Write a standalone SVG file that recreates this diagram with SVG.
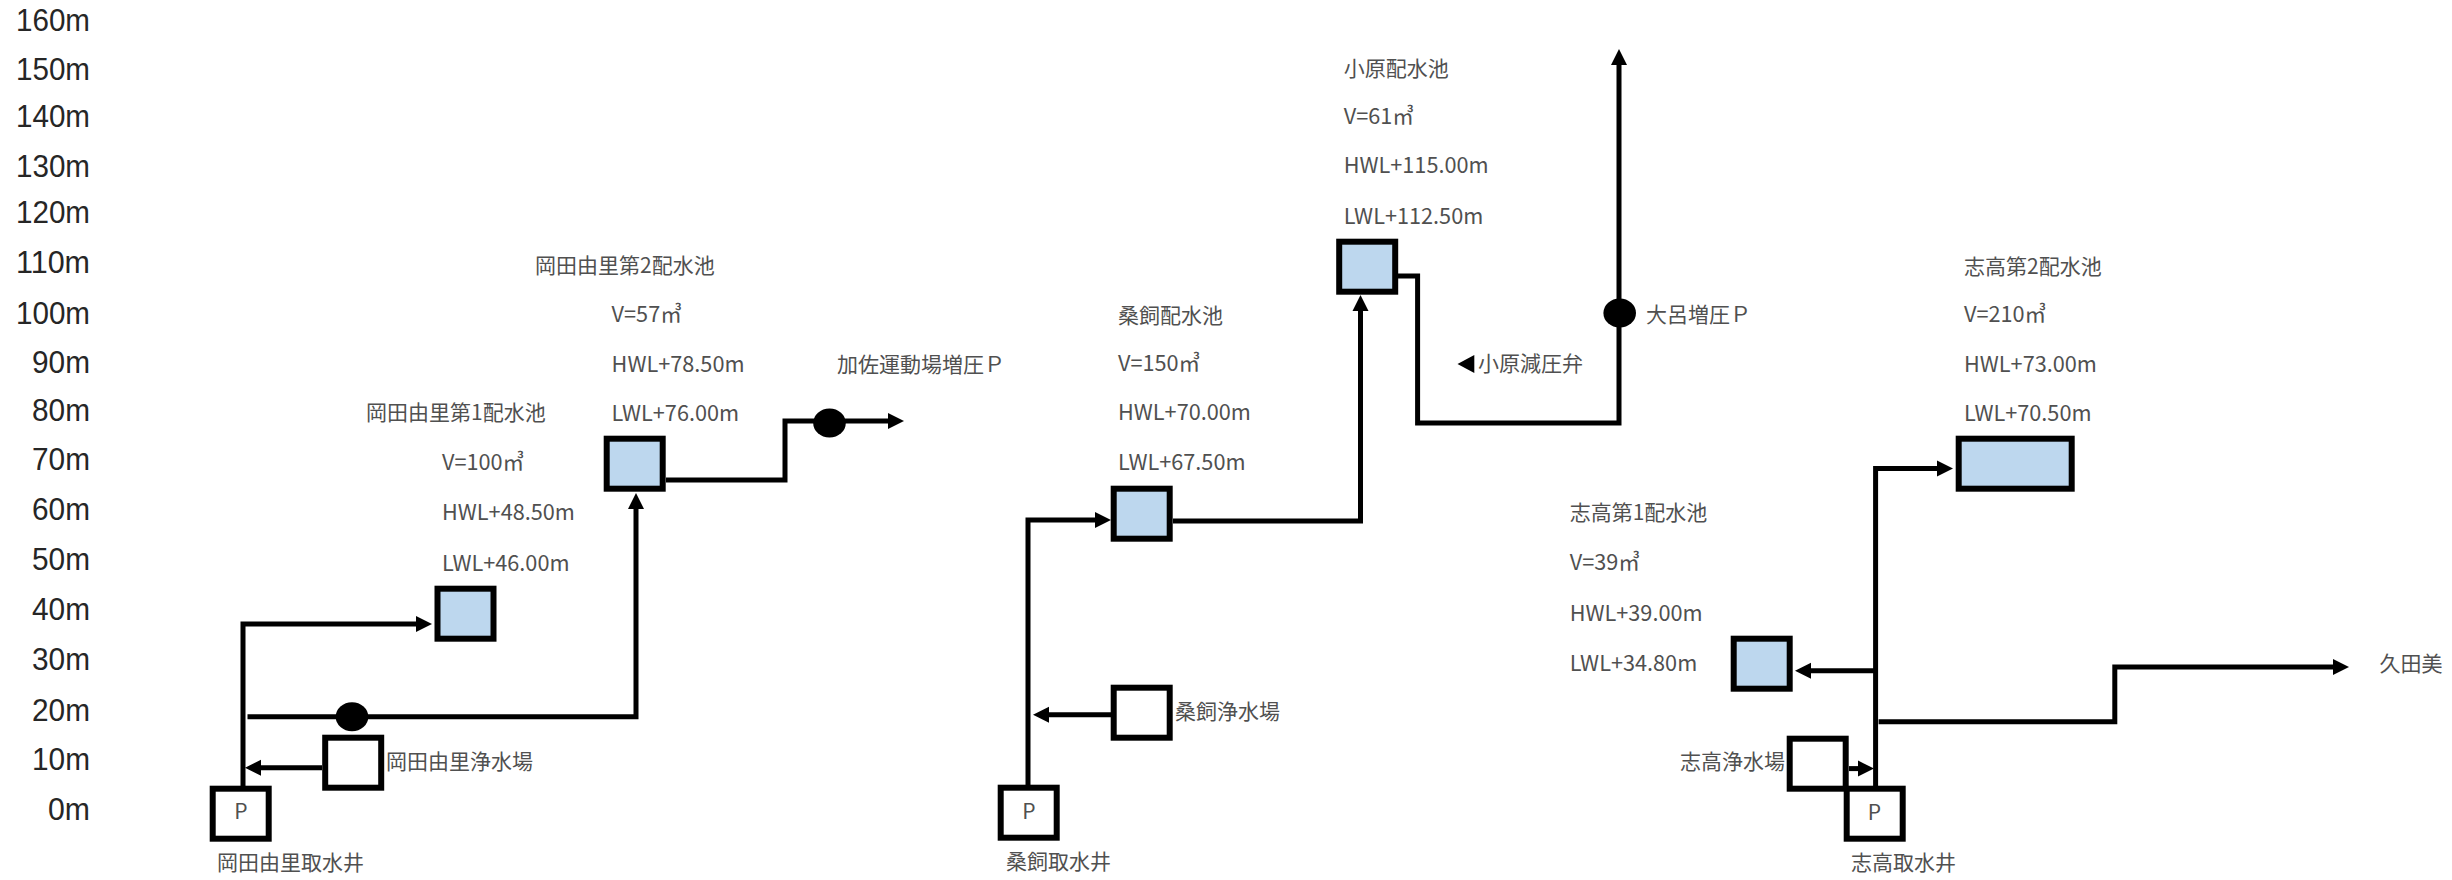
<svg xmlns="http://www.w3.org/2000/svg" width="2452" height="880" viewBox="0 0 2452 880">
<style>
text{font-family:"Noto Sans CJK JP","Noto Sans",sans-serif;font-size:21px;fill:#505050}
.l{font-size:21.700px}
text.ax{font-family:"Liberation Sans",sans-serif;font-size:32px;fill:#262626;text-anchor:end}
.c{text-anchor:middle}
.box{stroke:#000;stroke-width:6;fill:#fff}
.tank{stroke:#000;stroke-width:6;fill:#bdd7ee}
.pipe{fill:none;stroke:#000;stroke-width:5}
.arr{marker-end:url(#ah)}
.pump{fill:#000}
</style>
<defs>
<marker id="ah" markerUnits="userSpaceOnUse" markerWidth="18" markerHeight="18" refX="1" refY="8" orient="auto" overflow="visible"><polygon points="0,0 16,8 0,16" fill="#000"/></marker>
</defs>
<rect width="2452" height="880" fill="#fff"/>
<g id="axis">
<text class="ax" x="90" y="31" textLength="74" lengthAdjust="spacingAndGlyphs">160m</text>
<text class="ax" x="90" y="79.500" textLength="74" lengthAdjust="spacingAndGlyphs">150m</text>
<text class="ax" x="90" y="127" textLength="74" lengthAdjust="spacingAndGlyphs">140m</text>
<text class="ax" x="90" y="176.700" textLength="74" lengthAdjust="spacingAndGlyphs">130m</text>
<text class="ax" x="90" y="223" textLength="74" lengthAdjust="spacingAndGlyphs">120m</text>
<text class="ax" x="90" y="273" textLength="74" lengthAdjust="spacingAndGlyphs">110m</text>
<text class="ax" x="90" y="324" textLength="74" lengthAdjust="spacingAndGlyphs">100m</text>
<text class="ax" x="90" y="373" textLength="58" lengthAdjust="spacingAndGlyphs">90m</text>
<text class="ax" x="90" y="420.700" textLength="58" lengthAdjust="spacingAndGlyphs">80m</text>
<text class="ax" x="90" y="470" textLength="58" lengthAdjust="spacingAndGlyphs">70m</text>
<text class="ax" x="90" y="520" textLength="58" lengthAdjust="spacingAndGlyphs">60m</text>
<text class="ax" x="90" y="570" textLength="58" lengthAdjust="spacingAndGlyphs">50m</text>
<text class="ax" x="90" y="620" textLength="58" lengthAdjust="spacingAndGlyphs">40m</text>
<text class="ax" x="90" y="670" textLength="58" lengthAdjust="spacingAndGlyphs">30m</text>
<text class="ax" x="90" y="720.700" textLength="58" lengthAdjust="spacingAndGlyphs">20m</text>
<text class="ax" x="90" y="770" textLength="58" lengthAdjust="spacingAndGlyphs">10m</text>
<text class="ax" x="90" y="820" textLength="42" lengthAdjust="spacingAndGlyphs">0m</text>
</g>
<g id="connectors">
<path class="pipe arr" d="M243 786V624H417"/>
<path class="pipe arr" d="M247.500 716.700H636V508"/>
<path class="pipe arr" d="M322 767.700H260"/>
<path class="pipe arr" d="M666 480H785V421H889"/>
<path class="pipe arr" d="M1028 785V520H1096"/>
<path class="pipe arr" d="M1111 714.700H1048"/>
<path class="pipe arr" d="M1173 521H1360.500V310"/>
<path class="pipe arr" d="M1398 276H1417.600V423H1619V64"/>
<path class="pipe arr" d="M1875.600 786V468.600H1938"/>
<path class="pipe arr" d="M1875.600 670.700H1810"/>
<path class="pipe arr" d="M1878.600 721.700H2114.800V667H2334"/>
<path class="pipe arr" d="M1849 768.600H1859"/>
</g>
<g id="pump-okadayuri"><ellipse class="pump" cx="352" cy="716.700" rx="16.300" ry="14.500"/></g>
<g id="pump-kasa"><ellipse class="pump" cx="829.500" cy="423" rx="16.300" ry="14.500"/><text x="837" y="372">加佐運動場増圧Ｐ</text></g>
<g id="pump-oro"><ellipse class="pump" cx="1619.700" cy="313" rx="16.300" ry="14.500"/><text x="1646" y="322">大呂増圧Ｐ</text></g>
<g id="valve-ohara"><polygon points="1457.500,364 1474.300,355 1474.300,373" fill="#000"/><text x="1478" y="371">小原減圧弁</text></g>
<g id="well-okadayuri"><rect class="box" x="212.700" y="788.700" width="56" height="50"/><text class="c" x="241" y="819">P</text><text x="217" y="870">岡田由里取水井</text></g>
<g id="plant-okadayuri"><rect class="box" x="325.200" y="737.700" width="56" height="50"/><text x="386" y="769">岡田由里浄水場</text></g>
<g id="tank-okadayuri1"><rect class="tank" x="437.500" y="588.700" width="56" height="50"/><text x="366" y="420">岡田由里第1配水池</text><text class="l" x="442" y="470">V=100㎥</text><text class="l" x="442" y="520">HWL+48.50m</text><text class="l" x="442" y="571">LWL+46.00m</text></g>
<g id="tank-okadayuri2"><rect class="tank" x="606.700" y="438.700" width="56" height="50"/><text x="535" y="273">岡田由里第2配水池</text><text class="l" x="611.600" y="322">V=57㎥</text><text class="l" x="611.600" y="372">HWL+78.50m</text><text class="l" x="611.600" y="421">LWL+76.00m</text></g>
<g id="well-kuwagai"><rect class="box" x="1000.700" y="787.700" width="56" height="50"/><text class="c" x="1029" y="819">P</text><text x="1006" y="869">桑飼取水井</text></g>
<g id="plant-kuwagai"><rect class="box" x="1113.700" y="687.700" width="56" height="50"/><text x="1175" y="719">桑飼浄水場</text></g>
<g id="tank-kuwagai"><rect class="tank" x="1113.700" y="488.700" width="56" height="50"/><text x="1118" y="323">桑飼配水池</text><text class="l" x="1118" y="371">V=150㎥</text><text class="l" x="1118" y="420">HWL+70.00m</text><text class="l" x="1118" y="470">LWL+67.50m</text></g>
<g id="tank-ohara"><rect class="tank" x="1339.200" y="241.700" width="56" height="50"/><text x="1343.700" y="76">小原配水池</text><text class="l" x="1343.700" y="124">V=61㎥</text><text class="l" x="1343.700" y="173">HWL+115.00m</text><text class="l" x="1343.700" y="224">LWL+112.50m</text></g>
<g id="tank-shidaka2"><rect class="tank" x="1958.700" y="438.700" width="113" height="50"/><text x="1964" y="274">志高第2配水池</text><text class="l" x="1964" y="322">V=210㎥</text><text class="l" x="1964" y="372">HWL+73.00m</text><text class="l" x="1964" y="421">LWL+70.50m</text></g>
<g id="tank-shidaka1"><rect class="tank" x="1733.700" y="638.700" width="56" height="50"/><text x="1569.700" y="520">志高第1配水池</text><text class="l" x="1569.700" y="570">V=39㎥</text><text class="l" x="1569.700" y="621">HWL+39.00m</text><text class="l" x="1569.700" y="671">LWL+34.80m</text></g>
<g id="plant-shidaka"><rect class="box" x="1789.700" y="738.700" width="56" height="50"/><text x="1680" y="769">志高浄水場</text></g>
<g id="well-shidaka"><rect class="box" x="1846.700" y="788.700" width="56" height="50"/><text class="c" x="1874.500" y="820">P</text><text x="1851" y="870">志高取水井</text></g>
<g id="dest-kutami"><text x="2379.400" y="671">久田美</text></g>
</svg>
